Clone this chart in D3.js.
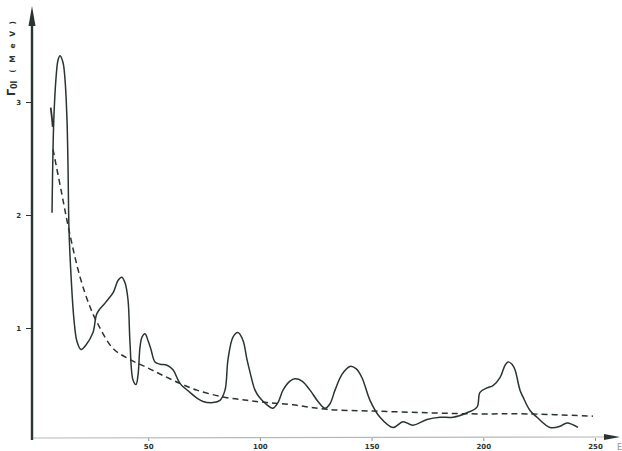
<!DOCTYPE html>
<html>
<head>
<meta charset="utf-8">
<script src="https://cdn.jsdelivr.net/npm/d3@7"></script>
<style>
  body { margin: 0; background: #fff; }
  svg { display: block; }
  .tick text { font-family: "DejaVu Sans", sans-serif; font-weight: bold; fill: #2a3432; }
</style>
</head>
<body>
<svg id="chart" width="622" height="451"></svg>
<script>
// energy (keV) ticks and width ticks
var xTicks = [50, 100, 150, 200, 250];
var yTicks = [1, 2, 3];

var measX = [6.94, 7.16, 7.39, 7.83, 8.73, 9.62, 10.52, 11.86, 12.76, 13.65, 14.10, 14.55, 15.44, 16.79, 18.13, 19.92,
  22.16, 25.29, 27.08, 30.66, 34.24, 36.48, 38.14, 39.62, 40.96, 41.85, 43.20, 44.54, 45.43, 46.33, 47.23, 48.57,
  49.91, 51.25, 53.04, 55.28, 58.41, 61.10, 64.23, 68.71, 71.84, 74.53, 79.01, 82.14, 84.38, 85.72, 87.96, 90.20,
  92.44, 94.23, 95.57, 97.81, 100.04, 103.18, 105.86, 108.10, 110.34, 113.47, 115.71, 118.84, 122.43, 126.01,
  129.14, 131.38, 133.62, 136.75, 140.33, 143.02, 145.70, 149.28, 153.76, 159.58, 164.05, 168.53, 174.80, 180.62,
  186.44, 192.70, 197.18, 198.52, 201.66, 204.34, 207.48, 209.71, 211.06, 212.85, 214.19, 216.43, 217.77, 220.91,
  224.04, 229.86, 234.33, 237.47, 242.39];
var measY = [2.02, 2.31, 2.58, 2.89, 3.21, 3.37, 3.41, 3.35, 3.20, 2.84, 2.44, 1.87, 1.47, 1.07, 0.88, 0.81,
  0.85, 0.96, 1.13, 1.22, 1.31, 1.42, 1.45, 1.40, 1.25, 0.87, 0.54, 0.50, 0.58, 0.83, 0.92, 0.95,
  0.89, 0.81, 0.70, 0.68, 0.67, 0.63, 0.51, 0.43, 0.38, 0.35, 0.34, 0.36, 0.45, 0.72, 0.92, 0.96,
  0.89, 0.72, 0.61, 0.45, 0.38, 0.32, 0.29, 0.34, 0.45, 0.53, 0.55, 0.53, 0.45, 0.35,
  0.29, 0.33, 0.45, 0.59, 0.66, 0.64, 0.56, 0.36, 0.21, 0.12, 0.17, 0.14, 0.19, 0.21,
  0.21, 0.25, 0.30, 0.43, 0.47, 0.49, 0.56, 0.67, 0.70, 0.68, 0.63, 0.45, 0.39, 0.27,
  0.21, 0.12, 0.13, 0.16, 0.12];

// short mark on the left flank of the first peak
var markX = [6.36, 6.9, 7.25];
var markY = [2.95, 2.86, 2.78];

// smooth average (dashed)
var avgX = [7.4, 11.0, 14.5, 19.5, 23.9, 27.1, 34.2, 41.9, 49.5, 56.6, 64.2, 71.8, 83.5, 94.2, 103.2, 114.8,
  130.0, 150.6, 174.8, 197.2, 219.6, 249.1];
var avgY = [2.58, 2.22, 1.87, 1.45, 1.19, 1.05, 0.82, 0.72, 0.65, 0.58, 0.51, 0.45, 0.39, 0.36, 0.34, 0.32,
  0.28, 0.265, 0.25, 0.24, 0.24, 0.22];

var ink = "#2a3432";
var svg = d3.select("#chart");

var x = d3.scaleLinear().domain([0, 250]).range([36.5, 595]);
var y = d3.scaleLinear().domain([0, 3]).range([441, 102]);

// x axis: faint baseline with dark arrow
svg.append("line")
  .attr("x1", 32).attr("x2", 608).attr("y1", 438).attr("y2", 437)
  .attr("stroke", "#b4bab8").attr("stroke-width", 1.2);
svg.append("path")
  .attr("d", "M604,434 L620,437 L604,440 Z")
  .attr("fill", ink);

var xAxis = svg.append("g")
  .attr("transform", "translate(0,438)")
  .call(d3.axisBottom(x).tickValues(xTicks).tickSize(3).tickPadding(3));
xAxis.select(".domain").remove();
xAxis.selectAll("line").attr("stroke", "#8c9492");
xAxis.selectAll("text").attr("font-size", 7);

// y axis: heavy line with arrow
var yAxis = svg.append("g")
  .attr("transform", "translate(32,0)")
  .call(d3.axisLeft(y).tickValues(yTicks).tickFormat(d3.format("d")).tickSize(6).tickPadding(5));
yAxis.select(".domain").remove();
yAxis.selectAll("line").attr("stroke", ink).attr("stroke-width", 1);
yAxis.selectAll("text").attr("font-size", 7);
svg.append("line")
  .attr("x1", 32).attr("x2", 32).attr("y1", 20).attr("y2", 440)
  .attr("stroke", ink).attr("stroke-width", 2.4);
svg.append("path")
  .attr("d", "M28.5,26 L32,6 L35.5,26 Z")
  .attr("fill", ink);

// axis title
var title = svg.append("text")
  .attr("transform", "translate(15,96) rotate(-90)")
  .attr("font-family", "DejaVu Sans, sans-serif")
  .attr("font-size", 11)
  .attr("font-weight", "bold")
  .attr("fill", ink);
title.append("tspan").text("\u0393\u0305");
title.append("tspan").attr("font-size", 8).attr("dy", 2).text("0l");
title.append("tspan").attr("dy", -2).attr("dx", 8).attr("font-size", 7.5)
  .attr("letter-spacing", 2).text("( M e V )");

// right edge label, mostly cut off
svg.append("text")
  .attr("x", 617).attr("y", 450)
  .attr("font-family", "DejaVu Sans, sans-serif")
  .attr("font-size", 8).attr("fill", "#8c9492").text("E");

var line = d3.line()
  .x(function(d) { return x(d[0]); })
  .y(function(d) { return y(d[1]); })
  .curve(d3.curveCatmullRom.alpha(0.5));

svg.append("path")
  .datum(d3.zip(avgX, avgY))
  .attr("d", line)
  .attr("fill", "none")
  .attr("stroke", ink)
  .attr("stroke-width", 1.5)
  .attr("stroke-dasharray", "6,4");

svg.append("path")
  .datum(d3.zip(measX, measY))
  .attr("d", line)
  .attr("fill", "none")
  .attr("stroke", ink)
  .attr("stroke-width", 1.5);

svg.append("path")
  .datum(d3.zip(markX, markY))
  .attr("d", line)
  .attr("fill", "none")
  .attr("stroke", ink)
  .attr("stroke-width", 1.8);
</script>
</body>
</html>
